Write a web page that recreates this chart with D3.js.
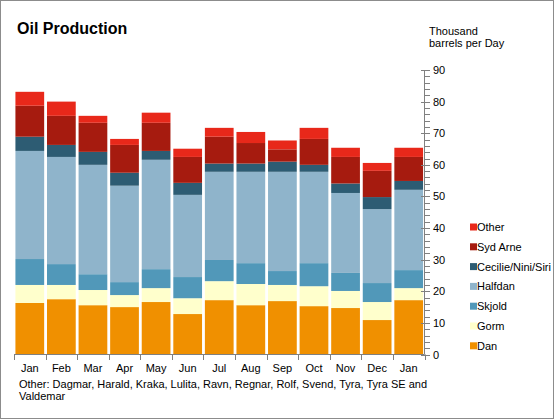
<!DOCTYPE html>
<html><head><meta charset="utf-8">
<script src="https://cdn.jsdelivr.net/npm/d3@7"></script>
<style>
body{margin:0;padding:0;background:#fff;}
svg{display:block;font-family:"Liberation Sans",Arial,sans-serif;}
</style></head>
<body><svg id="c" width="554" height="419"></svg>
<script>
const months = ["Jan","Feb","Mar","Apr","May","Jun","Jul","Aug","Sep","Oct","Nov","Dec","Jan"];
const seriesNames = ["Dan","Gorm","Skjold","Halfdan","Cecilie/Nini/Siri","Syd Arne","Other"];
const seriesColors = ["#f09000","#ffffcc","#5198b9","#8fb4cb","#2d5c73","#a61b0f","#e8281a"];
const dan      = [16.3,17.5,15.6,15.0,16.6,12.8,17.2,15.6,16.9,15.3,14.7,10.9,17.2];
const gorm     = [5.7,4.5,4.8,3.8,4.4,5.0,6.0,6.7,5.1,6.3,5.4,5.7,3.8];
const skjold   = [8.2,6.6,5.0,4.1,6.0,6.7,6.7,6.6,4.4,7.3,5.7,6.0,5.7];
const halfdan  = [34.2,33.9,34.6,30.5,34.6,26.0,27.9,28.9,31.4,28.9,25.3,23.4,25.4];
const cecilie  = [4.5,3.8,4.1,4.1,2.8,3.8,2.6,2.6,3.2,2.2,3.0,3.8,2.8];
const sydArne  = [9.8,9.2,9.2,8.8,8.9,8.2,8.5,6.5,3.9,8.2,8.4,8.3,7.6];
const other    = [4.4,4.5,2.2,1.9,3.2,2.6,2.8,3.5,2.8,3.5,2.9,2.5,2.9];
const yTicks = [0,10,20,30,40,50,60,70,80,90];

const seriesVals = [dan,gorm,skjold,halfdan,cecilie,sydArne,other];
const rows = months.map((m,i)=>{const r={idx:i}; seriesNames.forEach((s,k)=>r[s]=seriesVals[k][i]); return r;});

const svg = d3.select("#c");
svg.append("rect").attr("x",0.5).attr("y",0.5).attr("width",553).attr("height",418)
  .attr("fill","#fff").attr("stroke","#8c8c8c");

const x = d3.scaleBand().domain(d3.range(months.length)).range([14,424.5]).paddingInner(0.09).paddingOuter(0.045);
const y = d3.scaleLinear().domain([0,90]).range([354.5,70]);

const stack = d3.stack().keys(seriesNames)(rows);
svg.append("g").selectAll("g").data(stack).join("g")
  .attr("fill",(d,i)=>seriesColors[i])
  .selectAll("rect").data(d=>d).join("rect")
  .attr("x",d=>x(d.data.idx)).attr("width",x.bandwidth())
  .attr("y",d=>y(d[1])).attr("height",d=>y(d[0])-y(d[1]));

const axisColor="#808080";
// bottom axis
const gx = svg.append("g");
gx.append("line").attr("x1",14).attr("x2",424.5).attr("y1",354.5).attr("y2",354.5).attr("stroke",axisColor);
const step = x.step();
d3.range(months.length+1).forEach(i=>{
  const xx = Math.round(14 + i*(410.5/months.length))+0.5;
  gx.append("line").attr("x1",xx).attr("x2",xx).attr("y1",354.5).attr("y2",360).attr("stroke",axisColor);
});
gx.selectAll("text").data(months).join("text")
  .attr("x",(d,i)=>x(i)+x.bandwidth()/2).attr("y",372)
  .attr("text-anchor","middle").attr("font-size",11).attr("fill","#000").text(d=>d);

// right axis
const gy = svg.append("g");
gy.append("line").attr("x1",424.5).attr("x2",424.5).attr("y1",70).attr("y2",354.5).attr("stroke",axisColor);
d3.range(0,91,2).forEach(v=>{
  const yy = Math.round(y(v))+0.5;
  const major = v%10===0;
  gy.append("line").attr("x1",major?421:424.5).attr("x2",430).attr("y1",yy).attr("y2",yy).attr("stroke",axisColor);
});
gy.selectAll("text").data(yTicks).join("text")
  .attr("x",433).attr("y",d=>y(d)+4).attr("font-size",11).attr("fill","#000").text(d=>d);

// title
svg.append("text").attr("x",17).attr("y",34).attr("font-size",16).attr("font-weight","bold").text("Oil Production");
svg.append("text").attr("x",429).attr("y",35).attr("font-size",11).text("Thousand");
svg.append("text").attr("x",429).attr("y",47).attr("font-size",11).text("barrels per Day");

// legend
const lg = svg.append("g");
const legOrder = seriesNames.map((s,i)=>({s,c:seriesColors[i]})).reverse();
legOrder.forEach((d,i)=>{
  const cy = 227 + i*19.8;
  lg.append("rect").attr("x",470).attr("y",cy-3.5).attr("width",7).attr("height",7).attr("fill",d.c);
  lg.append("text").attr("x",477).attr("y",cy+4).attr("font-size",11).text(d.s);
});

// footnote
svg.append("text").attr("x",19).attr("y",388).attr("font-size",11).text("Other: Dagmar, Harald, Kraka, Lulita, Ravn, Regnar, Rolf, Svend, Tyra, Tyra SE  and");
svg.append("text").attr("x",19).attr("y",400).attr("font-size",11).text("Valdemar");
</script></body></html>
